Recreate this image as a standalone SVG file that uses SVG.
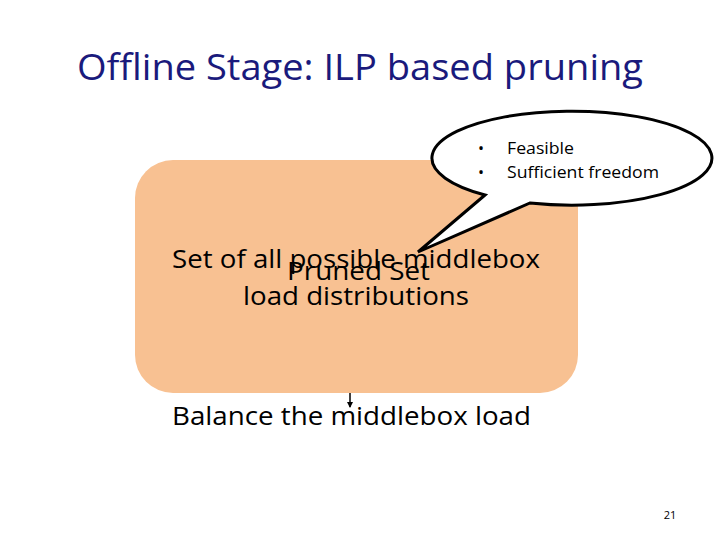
<svg xmlns="http://www.w3.org/2000/svg" width="720" height="540" viewBox="0 0 720 540">
<style>
text{font-family:"Open Sans","Liberation Sans",sans-serif;fill:#000}
</style>
<defs><marker id="ah" markerWidth="6" markerHeight="6" refX="5" refY="3" orient="auto" markerUnits="userSpaceOnUse"><path d="M0,0L6,3L0,6z" fill="#000"/></marker></defs>
<rect width="720" height="540" fill="#fff"/>
<text x="77" y="80" font-size="36" textLength="566" lengthAdjust="spacingAndGlyphs" style="fill:#1a1a7c">Offline Stage: ILP based pruning</text>
<g id="set">
<rect x="135" y="160" width="443" height="233" rx="38" fill="#F8C192"/>
<text x="172" y="268" font-size="25" textLength="368" lengthAdjust="spacingAndGlyphs">Set of all possible middlebox</text>
<text x="243" y="305" font-size="25" textLength="226" lengthAdjust="spacingAndGlyphs">load distributions</text>
<text x="287" y="280" font-size="25" textLength="143" lengthAdjust="spacingAndGlyphs">Pruned Set</text>
</g>
<g id="callout">
<path d="M485,195 L418,252 L530,203 A140,47 0 1 0 485,195 Z" fill="#fff" stroke="#000" stroke-width="3" stroke-linejoin="miter"/>
<text x="478" y="154" font-size="16">•</text><text x="507" y="154" font-size="16" textLength="67" lengthAdjust="spacingAndGlyphs">Feasible</text>
<text x="478" y="178" font-size="16">•</text><text x="507" y="178" font-size="16" textLength="152" lengthAdjust="spacingAndGlyphs">Sufficient freedom</text>
</g>
<g id="connectors">
<line x1="350" y1="393" x2="350" y2="407" stroke="#000" stroke-width="1.5" marker-end="url(#ah)"/>
</g>
<g id="balance"><text x="172" y="425" font-size="25" textLength="359" lengthAdjust="spacingAndGlyphs">Balance the middlebox load</text></g>
<text x="670" y="519" text-anchor="middle" font-size="11">21</text>
</svg>
